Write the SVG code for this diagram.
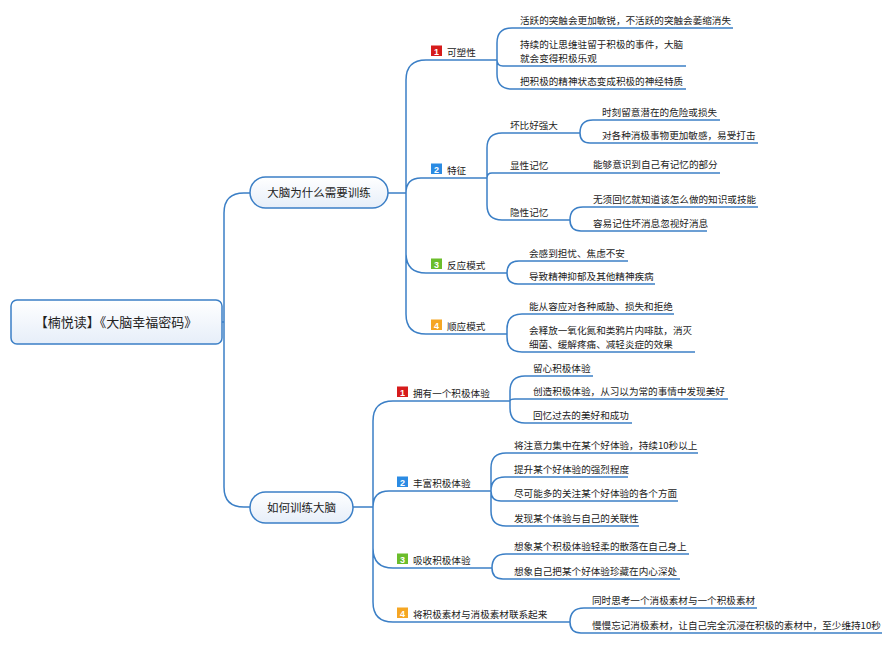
<svg xmlns="http://www.w3.org/2000/svg" width="894" height="645" viewBox="0 0 894 645">
<defs>
<linearGradient id="g" x1="0" y1="0" x2="0" y2="1"><stop offset="0" stop-color="#ffffff"/><stop offset="1" stop-color="#e6eef9"/></linearGradient>
<style>
.c{fill:none;stroke:#3b7fc6;stroke-width:1.5}
.u{fill:none;stroke:#3b7fc6;stroke-width:1.5}
.box{fill:url(#g);stroke:#3b7fc6;stroke-width:1.5}
text{font-family:"Noto Sans CJK SC","Noto Sans",sans-serif;fill:#222}
.t{font-size:9.6px}
.l1{font-size:11.5px}
.r{font-size:13px}
.n{font-size:9px;font-weight:bold;fill:#fff;text-anchor:middle;font-family:"Liberation Sans",sans-serif}
</style>
</defs>
<rect width="894" height="645" fill="#fff"/>
<g id="connectors">
<path class="c" d="M222,322 H224 M224,322 V213 Q224,193 244,193 H250 M224,322 V487 Q224,507 244,507 H250"/>
<path class="c" d="M388,193 H406 M406,193 V80 Q406,60 426,60 M406,193 Q406,178 421,178 M406,193 V253 Q406,273 426,273 M406,193 V314 Q406,334 426,334"/>
<path class="c" d="M497,60 V43 Q497,28 512,28 M497,60 Q497,66 503,66 M497,60 V74 Q497,89 512,89"/>
<path class="c" d="M487,178 V148 Q487,133 502,133 M487,178 Q487,173 492,173 M487,178 V205 Q487,220 502,220"/>
<path class="c" d="M580,133 Q580,120 593,120 M580,133 Q580,143 590,143"/>
<path class="c" d="M570,173 H590"/>
<path class="c" d="M570,220 Q570,207 583,207 M570,220 Q570,231 581,231"/>
<path class="c" d="M507,273 Q507,261 519,261 M507,273 Q507,284 518,284"/>
<path class="c" d="M507,334 V329 Q507,314 522,314 M507,334 V337 Q507,352 522,352"/>
<path class="c" d="M353,507 H373 M373,507 V421 Q373,401 393,401 M373,507 Q373,491 389,491 M373,507 V548 Q373,568 393,568 M373,507 V602 Q373,622 393,622"/>
<path class="c" d="M510,401 V391 Q510,376 525,376 M510,401 Q510,399 515,399 M510,401 V408 Q510,423 525,423"/>
<path class="c" d="M491,491 V468 Q491,453 506,453 M491,491 Q491,477 505,477 M491,491 Q491,501 501,501 M491,491 V511 Q491,526 506,526"/>
<path class="c" d="M492,568 Q492,554 506,554 M492,568 Q492,579 503,579"/>
<path class="c" d="M570,622 Q570,608 584,608 M570,622 Q570,633 581,633"/>
</g>
<g id="root"><rect class="box" x="11" y="300" width="211" height="44" rx="6"/><text class="r" x="116" y="326.5" text-anchor="middle">【楠悦读】《大脑幸福密码》</text></g>
<g id="why"><rect class="box" x="250" y="177" width="138" height="31" rx="15.5"/><text class="l1" x="319" y="197" text-anchor="middle">大脑为什么需要训练</text></g>
<g id="how"><rect class="box" x="250" y="492" width="103" height="31" rx="15.5"/><text class="l1" x="301.5" y="511.5" text-anchor="middle">如何训练大脑</text></g>

<g id="plasticity"><line class="u" x1="426" y1="60" x2="497" y2="60"/><rect x="431" y="45.5" width="11" height="10.5" fill="#d61b1b"/><text class="n" x="436.5" y="54.5">1</text><text class="t" x="447" y="56">可塑性</text></g>
<g id="p1"><line class="u" x1="512" y1="28" x2="733" y2="28"/><text class="t" x="520" y="24">活跃的突触会更加敏锐，不活跃的突触会萎缩消失</text></g>
<g id="p2"><line class="u" x1="503" y1="66" x2="686" y2="66"/><text class="t" x="520" y="48">持续的让思维驻留于积极的事件，大脑</text><text class="t" x="520" y="62">就会变得积极乐观</text></g>
<g id="p3"><line class="u" x1="512" y1="89" x2="686" y2="89"/><text class="t" x="520" y="85">把积极的精神状态变成积极的神经特质</text></g>

<g id="feature"><line class="u" x1="421" y1="178" x2="487" y2="178"/><rect x="431" y="163.5" width="11" height="10.5" fill="#2b8be3"/><text class="n" x="436.5" y="172.5">2</text><text class="t" x="447" y="174">特征</text></g>
<g id="f1"><line class="u" x1="502" y1="133" x2="580" y2="133"/><text class="t" x="510" y="129">坏比好强大</text></g>
<g id="f1a"><line class="u" x1="593" y1="120" x2="720" y2="120"/><text class="t" x="602" y="116">时刻留意潜在的危险或损失</text></g>
<g id="f1b"><line class="u" x1="590" y1="143" x2="758" y2="143"/><text class="t" x="602" y="139">对各种消极事物更加敏感，易受打击</text></g>
<g id="f2"><line class="u" x1="492" y1="173" x2="570" y2="173"/><text class="t" x="510" y="169">显性记忆</text></g>
<g id="f2a"><line class="u" x1="590" y1="173" x2="720" y2="173"/><text class="t" x="593" y="168">能够意识到自己有记忆的部分</text></g>
<g id="f3"><line class="u" x1="502" y1="220" x2="570" y2="220"/><text class="t" x="510" y="216">隐性记忆</text></g>
<g id="f3a"><line class="u" x1="583" y1="207" x2="758" y2="207"/><text class="t" x="593" y="203">无须回忆就知道该怎么做的知识或技能</text></g>
<g id="f3b"><line class="u" x1="581" y1="231" x2="707" y2="231"/><text class="t" x="593" y="227">容易记住坏消息忽视好消息</text></g>

<g id="react"><line class="u" x1="426" y1="273" x2="507" y2="273"/><rect x="431" y="258.5" width="11" height="10.5" fill="#6bbd2b"/><text class="n" x="436.5" y="267.5">3</text><text class="t" x="447" y="269">反应模式</text></g>
<g id="r1"><line class="u" x1="519" y1="261" x2="628" y2="261"/><text class="t" x="529" y="257">会感到担忧、焦虑不安</text></g>
<g id="r2"><line class="u" x1="518" y1="284" x2="655" y2="284"/><text class="t" x="529" y="280">导致精神抑郁及其他精神疾病</text></g>

<g id="adapt"><line class="u" x1="426" y1="334" x2="507" y2="334"/><rect x="431" y="319.5" width="11" height="10.5" fill="#f5a623"/><text class="n" x="436.5" y="328.5">4</text><text class="t" x="447" y="330">顺应模式</text></g>
<g id="a1"><line class="u" x1="522" y1="314" x2="674" y2="314"/><text class="t" x="529" y="310">能从容应对各种威胁、损失和拒绝</text></g>
<g id="a2"><line class="u" x1="522" y1="352" x2="695" y2="352"/><text class="t" x="529" y="334">会释放一氧化氮和类鸦片内啡肽，消灭</text><text class="t" x="529" y="348">细菌、缓解疼痛、减轻炎症的效果</text></g>

<g id="have"><line class="u" x1="393" y1="401" x2="510" y2="401"/><rect x="397" y="386.5" width="11" height="10.5" fill="#d61b1b"/><text class="n" x="402.5" y="395.5">1</text><text class="t" x="413" y="397">拥有一个积极体验</text></g>
<g id="h1"><line class="u" x1="525" y1="376" x2="593" y2="376"/><text class="t" x="533" y="372">留心积极体验</text></g>
<g id="h2"><line class="u" x1="515" y1="399" x2="728" y2="399"/><text class="t" x="533" y="395">创造积极体验，从习以为常的事情中发现美好</text></g>
<g id="h3"><line class="u" x1="525" y1="423" x2="632" y2="423"/><text class="t" x="533" y="419">回忆过去的美好和成功</text></g>

<g id="enrich"><line class="u" x1="389" y1="491" x2="491" y2="491"/><rect x="397" y="476.5" width="11" height="10.5" fill="#2b8be3"/><text class="n" x="402.5" y="485.5">2</text><text class="t" x="413" y="487">丰富积极体验</text></g>
<g id="e1"><line class="u" x1="506" y1="453" x2="698" y2="453"/><text class="t" x="514" y="449">将注意力集中在某个好体验，持续10秒以上</text></g>
<g id="e2"><line class="u" x1="505" y1="477" x2="628" y2="477"/><text class="t" x="514" y="473">提升某个好体验的强烈程度</text></g>
<g id="e3"><line class="u" x1="501" y1="501" x2="678" y2="501"/><text class="t" x="514" y="497">尽可能多的关注某个好体验的各个方面</text></g>
<g id="e4"><line class="u" x1="506" y1="526" x2="639" y2="526"/><text class="t" x="514" y="522">发现某个体验与自己的关联性</text></g>

<g id="absorb"><line class="u" x1="393" y1="568" x2="492" y2="568"/><rect x="397" y="553.5" width="11" height="10.5" fill="#6bbd2b"/><text class="n" x="402.5" y="562.5">3</text><text class="t" x="413" y="564">吸收积极体验</text></g>
<g id="b1"><line class="u" x1="506" y1="554" x2="689" y2="554"/><text class="t" x="514" y="550">想象某个积极体验轻柔的散落在自己身上</text></g>
<g id="b2"><line class="u" x1="503" y1="579" x2="680" y2="579"/><text class="t" x="514" y="575">想象自己把某个好体验珍藏在内心深处</text></g>

<g id="link"><line class="u" x1="393" y1="622" x2="570" y2="622"/><rect x="397" y="607.5" width="11" height="10.5" fill="#f5a623"/><text class="n" x="402.5" y="616.5">4</text><text class="t" x="413" y="618">将积极素材与消极素材联系起来</text></g>
<g id="k1"><line class="u" x1="584" y1="608" x2="757" y2="608"/><text class="t" x="592" y="604">同时思考一个消极素材与一个积极素材</text></g>
<g id="k2"><line class="u" x1="581" y1="633" x2="882" y2="633"/><text class="t" x="592" y="629">慢慢忘记消极素材，让自己完全沉浸在积极的素材中，至少维持10秒</text></g>
</svg>
